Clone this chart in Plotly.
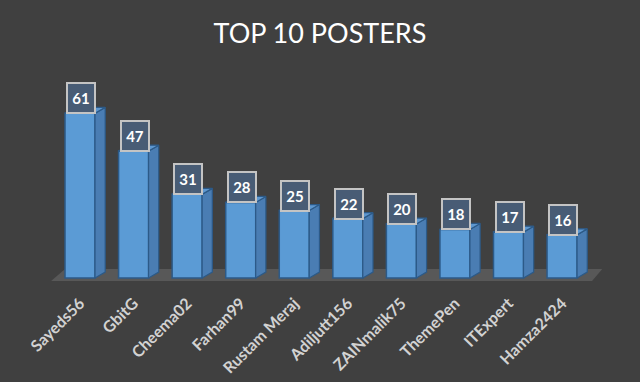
import plotly.graph_objects as go

categories = ["Sayeds56", "GbitG", "Cheema02", "Farhan99", "Rustam Meraj",
              "Adiljutt156", "ZAINmalik75", "ThemePen", "ITExpert", "Hamza2424"]
posts = [61, 47, 31, 28, 25, 22, 20, 18, 17, 16]

n = len(categories)
xs = list(range(n))
W = 0.56     # bar front width (category units)
DX = 0.19    # 3D depth, x
DY = 2.2     # 3D depth, y (value units)

side_x, side_y, top_x, top_y = [], [], [], []
for x, v in zip(xs, posts):
    l, r = x - W / 2, x + W / 2
    side_x += [r, r + DX, r + DX, r, r, None]
    side_y += [0, DY, v + DY, v, 0, None]
    top_x += [l, r, r + DX, l + DX, l, None]
    top_y += [v, v, v + DY, v + DY, v, None]

fig = go.Figure()
fig.add_trace(go.Bar(x=xs, y=posts, width=W,
                     marker=dict(color="#5b9bd5", line=dict(color="#2c5a88", width=1.5)),
                     hoverinfo="skip"))
fig.add_trace(go.Scatter(x=side_x, y=side_y, mode="lines", fill="toself",
                         fillcolor="#4a7db3", line=dict(color="#2c5a88", width=1.2),
                         hoverinfo="skip"))
fig.add_trace(go.Scatter(x=top_x, y=top_y, mode="lines", fill="toself",
                         fillcolor="#5e97cf", line=dict(color="#2c5a88", width=1.2),
                         hoverinfo="skip"))

floor_path = (f"M {-0.54},{-1.1} L {n - 1 + 0.56},{-1.1} "
              f"L {n - 1 + 0.75},{3.3} L {-0.28},{3.3} Z")
fig.add_shape(type="path", path=floor_path, xref="x", yref="y",
              fillcolor="#585858", line=dict(width=0), layer="below")

for x, v in zip(xs, posts):
    fig.add_annotation(x=x + 0.02, y=v, yanchor="bottom", yshift=-1,
                       text=f"<b>{v}</b>", showarrow=False,
                       width=20, height=22, align="center", valign="middle",
                       font=dict(family="Lato", size=15, color="white"),
                       bgcolor="#485c75", bordercolor="#c4c4c4",
                       borderwidth=2, borderpad=3)

fig.update_layout(
    width=640, height=382,
    paper_bgcolor="#404040", plot_bgcolor="#404040",
    margin=dict(l=0, r=0, t=0, b=92),
    showlegend=False,
    title=dict(text="TOP 10 POSTERS", x=0.5, xanchor="center",
               y=1 - 34 / 382, yanchor="middle", yref="container",
               font=dict(family="Lato", size=27, color="white")),
    xaxis=dict(range=[-1.494, 10.455], tickvals=xs, ticktext=categories,
               tickangle=-45, showgrid=False, zeroline=False, showline=False,
               ticks="", fixedrange=True,
               tickfont=dict(family="Lato", size=16, color="#d2d2d2", weight="bold")),
    yaxis=dict(range=[-4.44, 102.96], visible=False, fixedrange=True),
)

fig.write_html("out.html", config={"displayModeBar": False},
               post_script="document.body.style.margin='0';document.body.style.overflow='hidden';")
